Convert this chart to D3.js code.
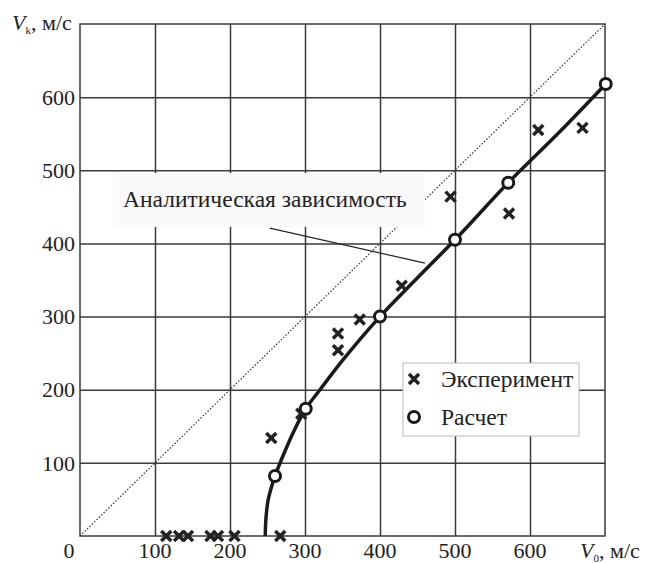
<!DOCTYPE html>
<html>
<head>
<meta charset="utf-8">
<script src="https://cdn.jsdelivr.net/npm/d3@7"></script>
<style>
  body { margin: 0; background: #fff; }
</style>
</head>
<body>
<div id="chart"></div>
<script>
// Experiment (crosses)
const expV0 = [115, 132, 144, 174, 184, 206, 267, 255, 295, 344, 344, 373, 429, 494, 572, 611, 670];
const expVk = [0, 0, 0, 0, 0, 0, 0, 134, 167, 277, 254, 296, 342, 464, 441, 555, 558];

// Calculation (circles)
const calcV0 = [260, 301, 400, 500, 571, 701];
const calcVk = [82, 174, 300, 405, 483, 618];

// Analytical curve
const curveV0 = [247, 248, 251, 255, 260, 270, 285, 301, 320, 350, 375, 400, 450, 500, 571, 640, 701];
const curveVk = [0, 25, 50, 66, 82, 108, 143, 174, 200, 240, 271, 300, 353, 405, 483, 553, 618];

// leader line of the annotation (data units)
const leaderV0 = [253, 460];
const leaderVk = [421, 373];

const ticks = [100, 200, 300, 400, 500, 600];
const legendLabels = ["Эксперимент", "Расчет"];
const annotationText = "Аналитическая зависимость";

const width = 645, height = 563;
const margin = { left: 80, right: 40, top: 24, bottom: 27 };
const gridColor = "#3a3a3a";
const fontFamily = "'Liberation Serif'";
const numSize = 22;
const textSize = 23.5;

const svg = d3.select("#chart").append("svg")
  .attr("width", width)
  .attr("height", height);

const x = d3.scaleLinear().domain([0, 700]).range([margin.left, width - margin.right]);
const y = d3.scaleLinear().domain([0, 700]).range([height - margin.bottom, margin.top]);

const label = (sel, size) => sel
  .style("font-family", fontFamily)
  .style("font-size", size + "px")
  .attr("fill", "#222");

// -- grid --
svg.append("g")
  .attr("transform", `translate(0, ${y(0)})`)
  .call(d3.axisBottom(x).tickValues(ticks).tickSize(-(y(0) - y(700))).tickFormat(""))
  .call(g => g.select(".domain").remove())
  .call(g => g.selectAll("line").attr("stroke", gridColor).attr("stroke-width", 1.5));

svg.append("g")
  .attr("transform", `translate(${x(0)}, 0)`)
  .call(d3.axisLeft(y).tickValues(ticks).tickSize(-(x(700) - x(0))).tickFormat(""))
  .call(g => g.select(".domain").remove())
  .call(g => g.selectAll("line").attr("stroke", gridColor).attr("stroke-width", 1.5));

// frame
svg.append("rect")
  .attr("x", x(0)).attr("y", y(700))
  .attr("width", x(700) - x(0)).attr("height", y(0) - y(700))
  .attr("fill", "none").attr("stroke", gridColor).attr("stroke-width", 1.5);

// tick labels
svg.append("g")
  .selectAll("text")
  .data([0].concat(ticks))
  .enter()
  .append("text")
  .attr("x", d => d === 0 ? x(0) - 11 : x(d))
  .attr("y", 558)
  .attr("text-anchor", "middle")
  .call(label, numSize)
  .text(d => d);

svg.append("g")
  .selectAll("text")
  .data(ticks)
  .enter()
  .append("text")
  .attr("x", x(0) - 5)
  .attr("y", d => y(d))
  .attr("dy", "0.35em")
  .attr("text-anchor", "end")
  .call(label, numSize)
  .text(d => d);

// axis titles
const yTitle = svg.append("text").attr("x", 12).attr("y", 30).call(label, numSize);
yTitle.append("tspan").attr("font-style", "italic").text("V");
yTitle.append("tspan").style("font-size", "11px").attr("dy", 4).text("k");
yTitle.append("tspan").attr("dy", -4).text(", м/с");

const xTitle = svg.append("text").attr("x", 580).attr("y", 558).call(label, numSize);
xTitle.append("tspan").attr("font-style", "italic").text("V");
xTitle.append("tspan").style("font-size", "11px").attr("dy", 4).text("0");
xTitle.append("tspan").attr("dy", -4).text(", м/с");

// dotted diagonal Vk = V0
svg.append("line")
  .attr("x1", x(0)).attr("y1", y(0))
  .attr("x2", x(700)).attr("y2", y(700))
  .attr("stroke", "#333")
  .attr("stroke-width", 1.2)
  .attr("stroke-dasharray", "1.5,1.8");

// annotation box with text (covers grid)
svg.append("rect")
  .attr("x", 113).attr("y", 173)
  .attr("width", 312).attr("height", 54)
  .attr("fill", "#f9f9f9");

svg.append("text")
  .attr("x", 123).attr("y", 207)
  .call(label, textSize)
  .text(annotationText);

svg.append("line")
  .attr("x1", x(leaderV0[0])).attr("y1", y(leaderVk[0]))
  .attr("x2", x(leaderV0[1])).attr("y2", y(leaderVk[1]))
  .attr("stroke", "#222")
  .attr("stroke-width", 1.2);

// analytical curve
const curvePts = curveV0.map((v, i) => [v, curveVk[i]]);
svg.append("path")
  .datum(curvePts)
  .attr("fill", "none")
  .attr("stroke", "#1a1a1a")
  .attr("stroke-width", 3.5)
  .attr("d", d3.line().x(d => x(d[0])).y(d => y(d[1])).curve(d3.curveMonotoneY));

const crossPath = "M-5,-5L5,5M-5,5L5,-5";

// experiment crosses
svg.append("g")
  .selectAll("path")
  .data(expV0.map((v, i) => [v, expVk[i]]))
  .enter()
  .append("path")
  .attr("transform", d => `translate(${x(d[0])}, ${y(d[1])})`)
  .attr("d", crossPath)
  .attr("stroke", "#222")
  .attr("stroke-width", 3.5);

// calculation circles
svg.append("g")
  .selectAll("circle")
  .data(calcV0.map((v, i) => [v, calcVk[i]]))
  .enter()
  .append("circle")
  .attr("cx", d => x(d[0]))
  .attr("cy", d => y(d[1]))
  .attr("r", 5.5)
  .attr("fill", "#fff")
  .attr("stroke", "#1a1a1a")
  .attr("stroke-width", 3);

// -- legend --
const legend = svg.append("g").attr("transform", "translate(403, 363)");
legend.append("rect")
  .attr("width", 176).attr("height", 73)
  .attr("fill", "#fff")
  .attr("stroke", "#bbb")
  .attr("stroke-width", 1);

legend.append("path")
  .attr("transform", "translate(11, 16)")
  .attr("d", crossPath)
  .attr("stroke", "#222")
  .attr("stroke-width", 3.5);
legend.append("circle")
  .attr("cx", 11).attr("cy", 54)
  .attr("r", 5.5)
  .attr("fill", "#fff")
  .attr("stroke", "#1a1a1a")
  .attr("stroke-width", 3);

legend.selectAll("text.lbl")
  .data(legendLabels)
  .enter()
  .append("text")
  .attr("class", "lbl")
  .attr("x", 38)
  .attr("y", (d, i) => 16 + i * 38)
  .attr("dy", "0.35em")
  .call(label, textSize)
  .text(d => d);
</script>
</body>
</html>
